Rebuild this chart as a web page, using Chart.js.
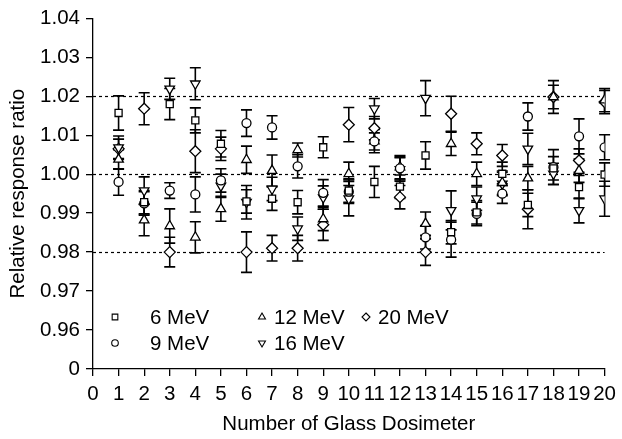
<!DOCTYPE html>
<html>
<head>
<meta charset="utf-8">
<script src="https://cdn.jsdelivr.net/npm/chart.js@4"></script>
<style>
  html, body { margin: 0; padding: 0; background: #fff; }
  #wrap { width: 622px; height: 439px; }
</style>
</head>
<body>
<div id="wrap"><canvas id="chart"></canvas></div>
<script>
// dosimeter numbers
const dosimeters = [1, 2, 3, 4, 5, 6, 7, 8, 9, 10, 11, 12, 13, 14, 15, 16, 17, 18, 19, 20];

// relative response ratio per energy
const mev6 = [1.0157, 0.9928, 1.0180, 1.0138, 1.0078, 0.9930, 0.9937, 0.9928, 1.0069, 0.9958,
              0.9980, 0.9968, 1.0048, 0.9851, 0.9902, 1.0001, 0.9921, 1.0015, 0.9967, 0.9999];
const mev6Err = [0.0044, 0.0030, 0.0040, 0.0032, 0.0034, 0.0030, 0.0030, 0.0030, 0.0027, 0.0030,
                 0.0040, 0.0030, 0.0035, 0.0030, 0.0030, 0.0030, 0.0030, 0.0030, 0.0030, 0.0030];

const mev9 = [0.9980, 0.9925, 0.9958, 0.9948, 0.9984, 1.0131, 1.0120, 1.0020, 0.9952, 0.9955,
              1.0084, 1.0015, 0.9838, 0.9832, 0.9898, 0.9950, 1.0148, 1.0018, 1.0097, 1.0069];
const mev9Err = [0.0034, 0.0030, 0.0020, 0.0045, 0.0030, 0.0034, 0.0030, 0.0030, 0.0034, 0.0030,
                 0.0022, 0.0030, 0.0030, 0.0045, 0.0030, 0.0025, 0.0035, 0.0045, 0.0045, 0.0032];

const mev12 = [1.0038, 0.9882, 0.9867, 0.9838, 0.9911, 1.0037, 1.0009, 1.0062, 0.9885, 1.0001,
               1.0085, 1.0018, 0.9873, 1.0078, 1.0001, 0.9978, 0.9990, 1.0198, 1.0009, 1.0190];
const mev12Err = [0.0025, 0.0040, 0.0044, 0.0040, 0.0032, 0.0035, 0.0040, 0.0018, 0.0030, 0.0030,
                  0.0030, 0.0030, 0.0030, 0.0030, 0.0030, 0.0030, 0.0030, 0.0030, 0.0030, 0.0030];

const mev16 = [1.0068, 0.9958, 1.0219, 1.0232, 0.9970, 0.9928, 0.9962, 0.9860, 0.9940, 0.9937,
               1.0168, 1.0012, 1.0195, 0.9907, 0.9937, 0.9975, 1.0065, 1.0001, 0.9907, 0.9937];
const mev16Err = [0.0030, 0.0035, 0.0027, 0.0041, 0.0030, 0.0043, 0.0030, 0.0030, 0.0030, 0.0044,
                  0.0026, 0.0030, 0.0045, 0.0050, 0.0030, 0.0030, 0.0040, 0.0027, 0.0032, 0.0045];

const mev20 = [1.0065, 1.0168, 0.9800, 1.0059, 1.0065, 0.9800, 0.9810, 0.9810, 0.9870, 1.0127,
               1.0118, 0.9941, 0.9800, 1.0155, 1.0078, 1.0048, 0.9910, 1.0198, 1.0035, 1.0185];
const mev20Err = [0.0025, 0.0041, 0.0038, 0.0055, 0.0030, 0.0052, 0.0033, 0.0033, 0.0040, 0.0044,
                  0.0030, 0.0030, 0.0034, 0.0045, 0.0028, 0.0028, 0.0050, 0.0042, 0.0030, 0.0030];

const yTicks = [0.95, 0.96, 0.97, 0.98, 0.99, 1.00, 1.01, 1.02, 1.03, 1.04];
const refLines = [0.98, 1.00, 1.02];

const FONT = '"Liberation Sans", Arial, Helvetica, sans-serif';
const FSIZE = 20.5;

function makeSet(label, values, errs, style, rotation) {
  return {
    label: label,
    data: dosimeters.map((d, i) => ({ x: d, y: values[i], err: errs[i] })),
    pointStyle: style,
    rotation: rotation || 0,
    pointRadius: style === 'circle' ? 4.5 : (style === 'rect' ? 5 : 5.5),
    pointBorderWidth: 1.3,
    borderColor: '#000',
    backgroundColor: '#fff',
    showLine: false
  };
}

const datasets = [
  makeSet('6 MeV', mev6, mev6Err, 'rect'),
  makeSet('9 MeV', mev9, mev9Err, 'circle'),
  makeSet('12 MeV', mev12, mev12Err, 'triangle'),
  makeSet('16 MeV', mev16, mev16Err, 'triangle', 180),
  makeSet('20 MeV', mev20, mev20Err, 'rectRot')
];

// dashed reference lines + error bars, under the markers
const errorBars = {
  id: 'errorBars',
  beforeDatasetsDraw(chart) {
    const ctx = chart.ctx;
    const xs = chart.scales.x, ys = chart.scales.y;
    const area = chart.chartArea;
    ctx.save();
    ctx.strokeStyle = '#000';
    ctx.lineWidth = 1.2;
    ctx.setLineDash([3, 3]);
    refLines.forEach(v => {
      const y = Math.round(ys.getPixelForValue(v)) + 0.5;
      ctx.beginPath();
      ctx.moveTo(area.left, y);
      ctx.lineTo(area.right, y);
      ctx.stroke();
    });
    ctx.setLineDash([]);
    ctx.lineWidth = 1.6;
    chart.data.datasets.forEach(ds => {
      ds.data.forEach(p => {
        const x = xs.getPixelForValue(p.x);
        const top = ys.getPixelForValue(p.y + p.err);
        const bot = ys.getPixelForValue(p.y - p.err);
        ctx.beginPath();
        ctx.moveTo(x, top); ctx.lineTo(x, bot);
        ctx.moveTo(x - 5.5, top); ctx.lineTo(x + 5.5, top);
        ctx.moveTo(x - 5.5, bot); ctx.lineTo(x + 5.5, bot);
        ctx.stroke();
      });
    });
    ctx.restore();
  }
};

// legend inside the plot, two rows filled column by column
function drawMarker(ctx, style, rotation, r, x, y) {
  ctx.beginPath();
  if (style === 'rect') {
    const s = r * Math.SQRT1_2;
    ctx.rect(x - s, y - s, 2 * s, 2 * s);
  } else if (style === 'circle') {
    ctx.arc(x, y, r, 0, Math.PI * 2);
  } else if (style === 'rectRot') {
    ctx.moveTo(x, y - r); ctx.lineTo(x + r, y); ctx.lineTo(x, y + r); ctx.lineTo(x - r, y);
    ctx.closePath();
  } else {
    const d = rotation === 180 ? -1 : 1;
    ctx.moveTo(x, y - d * r);
    ctx.lineTo(x + r * 0.866, y + d * r / 2);
    ctx.lineTo(x - r * 0.866, y + d * r / 2);
    ctx.closePath();
  }
  ctx.fill();
  ctx.stroke();
}

const insideLegend = {
  id: 'insideLegend',
  afterDraw(chart) {
    const ctx = chart.ctx;
    const markerX = [115, 262, 366];
    const textX = [150, 274, 378];
    const rowY = [317, 343];
    ctx.save();
    ctx.font = FSIZE + 'px ' + FONT;
    ctx.textBaseline = 'middle';
    ctx.fillStyle = '#000';
    ctx.strokeStyle = '#000';
    ctx.lineWidth = 1.1;
    chart.data.datasets.forEach((ds, i) => {
      const col = Math.floor(i / 2), row = i % 2;
      ctx.fillStyle = '#fff';
      drawMarker(ctx, ds.pointStyle, ds.rotation, ds.pointStyle === 'circle' ? 3.3 : 4, markerX[col], rowY[row]);
      ctx.fillStyle = '#000';
      ctx.fillText(ds.label, textX[col], rowY[row] + 1);
    });
    ctx.restore();
  }
};

new Chart(document.getElementById('chart'), {
  type: 'scatter',
  data: { datasets: datasets },
  plugins: [errorBars, insideLegend],
  options: {
    responsive: true,
    maintainAspectRatio: false,
    animation: false,
    layout: { padding: { top: 16, right: 14, left: 0, bottom: 0 } },
    plugins: {
      legend: { display: false },
      tooltip: { enabled: false }
    },
    scales: {
      x: {
        type: 'linear',
        min: 0,
        max: 20,
        afterFit: s => { s.height = 70; },
        ticks: {
          stepSize: 1,
          color: '#000',
          padding: 6,
          maxRotation: 0,
          autoSkip: false,
          font: { family: FONT, size: FSIZE }
        },
        grid: { drawOnChartArea: false, color: '#000', lineWidth: 1.3, tickLength: 7 },
        border: { color: '#000', width: 1.3 },
        title: {
          display: true,
          text: 'Number of Glass Dosimeter',
          color: '#000',
          padding: { top: 0, bottom: 2 },
          font: { family: FONT, size: FSIZE }
        }
      },
      y: {
        type: 'linear',
        min: 0.95,
        max: 1.04,
        afterFit: s => { s.width = 93; },
        afterBuildTicks: s => { s.ticks = yTicks.map(v => ({ value: v })); },
        ticks: {
          color: '#000',
          padding: 6,
          font: { family: FONT, size: FSIZE },
          callback: v => (v < 0.955 ? '0' : v.toFixed(2))
        },
        grid: { drawOnChartArea: false, color: '#000', lineWidth: 1.3, tickLength: 7 },
        border: { color: '#000', width: 1.3 },
        title: {
          display: true,
          text: 'Relative response ratio',
          color: '#000',
          padding: { top: 6, bottom: 0 },
          font: { family: FONT, size: FSIZE }
        }
      }
    }
  }
});
</script>
</body>
</html>
